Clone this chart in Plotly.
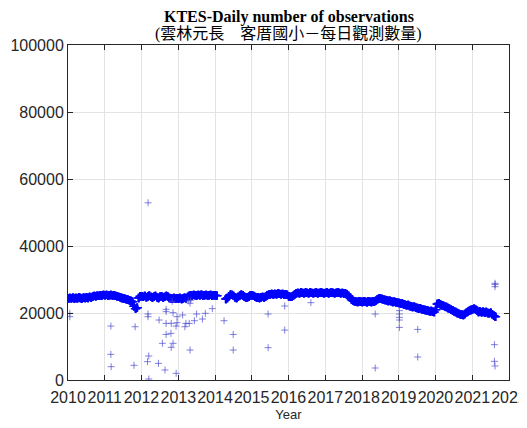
import pandas as pd
import plotly.graph_objects as go

# Semi-monthly levels of the main band (two values per month: 1st half, 2nd half)
band_2010 = [24300,24500,24400,24600,24300,24500,24400,24700,24500,24300,24600,24500,
             24700,24500,24800,24600,24900,25100,25000,25200,25100,25300,25200,25400]
band_2011 = [25300,25400,25200,25300,25400,25200,25300,25100,25000,24800,24700,24500,
             24400,24300,24100,24000,23800,23600,23400,22000,21300,21600,24500,25000]
band_2012 = [25000,24800,25100,24700,24900,25200,24800,24600,24900,25100,24700,24500,
             24900,25000,24600,24800,25100,24900,24500,24400,24300,24500,24300,24400]
band_2013 = [24300,24500,24200,24400,24600,24400,24800,25100,25300,25200,25400,25300,
             25200,25400,25300,25500,25200,25300,25400,25200,25300,25400,25200,25300]
band_2014 = [25300,25200,None,None,None,None,None,24200,24500,25000,25500,25400,
             25100,24700,24500,24800,25200,25500,25300,24900,24600,24700,24900,25300]
band_2015 = [25300,25100,24800,24600,24700,24500,24700,24800,24600,24900,25300,25500,
             25600,25700,25500,25700,25600,25800,25700,25600,25700,25500,25600,25400]
band_2016 = [25000,24800,24900,25200,25600,25900,26000,25900,26100,26000,25900,26100,
             26000,25900,26100,26000,25900,26000,26100,25900,26000,26100,26000,25900]
band_2017 = [26000,26100,25900,26000,26100,26000,25900,26000,26100,26000,25900,26000,
             25800,25900,25600,25200,24600,24000,23700,23500,23400,23300,23500,23400]
band_2018 = [23300,23500,23400,23200,23500,23400,23300,23500,23400,23700,24100,24400,
             24300,24200,24000,23900,23800,23600,23700,23500,23300,23400,23200,23100]
band_2019 = [23000,22800,22900,22600,22500,22300,22400,22100,22000,21800,21900,21600,
             21500,21300,21400,21100,21000,20900,20800,20700,20500,20600,20400,20300]
band_2020 = [21000,22700,22900,22600,22300,22200,21900,21800,21500,21300,21000,20800,
             20500,20300,20000,19800,19600,19500,19400,19700,20100,20400,20700,20900]
band_2021 = [21100,21300,21000,20700,20300,20500,20200,20400,20100,20300,20000,19900,
             20100,19600,19200,18900]

years = list(range(2010, 2022))
band_by_year = [band_2010, band_2011, band_2012, band_2013, band_2014, band_2015,
                band_2016, band_2017, band_2018, band_2019, band_2020, band_2021]

# Outlier observations (date, count)
outlier_dates = [
    "2010-01-19", "2010-01-19",
    "2011-03-03", "2011-03-03", "2011-03-06",
    "2011-10-30", "2011-10-19",
    "2012-03-14", "2012-03-01", "2012-03-14", "2012-03-06", "2012-03-06", "2012-03-07",
    "2012-06-24", "2012-06-18", "2012-07-27", "2012-08-22",
    "2012-09-02", "2012-09-02", "2012-09-02", "2012-09-02",
    "2012-10-20", "2012-10-23", "2012-10-23",
    "2012-11-10", "2012-11-10", "2012-11-01",
    "2012-12-10", "2012-12-11", "2012-12-20", "2012-12-20",
    "2013-02-13", "2013-03-08", "2013-03-18", "2013-04-20", "2013-04-28", "2013-04-28",
    "2013-04-10", "2013-05-05",
    "2013-06-10", "2013-07-02", "2013-08-29", "2013-09-27", "2013-12-05",
    "2014-04-01", "2014-07-01", "2014-07-01",
    "2015-06-13", "2015-06-13",
    "2015-11-25", "2015-11-25",
    "2016-08-11",
    "2018-05-12", "2018-05-12",
    "2019-01-08", "2019-01-08", "2019-01-08", "2019-01-08", "2019-01-08",
    "2019-07-09", "2019-07-09",
    "2021-08-15", "2021-08-15", "2021-08-16", "2021-08-15",
    "2021-08-09", "2021-08-09",
]
outlier_values = [
    19900, 18900,
    16100, 7650, 3970,
    15900, 4380,
    300, 5470, 7160, 19700, 18900, 52900,
    17900, 4970, 10950, 2990,
    21100, 20400, 16900, 13600,
    13930, 16900, 9750,
    20100, 10950, 23500,
    16100, 2000, 18900, 17100,
    19400, 15900, 16900, 16900, 22900, 8950,
    23600, 23800,
    17700, 19700, 18200, 19900, 21300,
    17700, 13600, 8950,
    19700, 9650,
    22090, 14900,
    23080,
    19700, 3580,
    20700, 19700, 18700, 17900, 15700,
    15100, 6870,
    28860, 27850, 28500, 4180,
    10550, 5570,
]

x_ticks = [str(y) for y in range(2010, 2023)]

band_x, band_y = [], []
for yr, vals in zip(years, band_by_year):
    for i, v in enumerate(vals):
        month = i // 2 + 1
        day = 4 if i % 2 == 0 else 19
        band_x.append(pd.Timestamp(yr, month, day))
        band_y.append(v)

# Plot each half-month level at several days so the band looks continuous
dense_x, dense_y = [], []
for d, v in zip(band_x, band_y):
    if v is None:
        continue
    for off in (-6, -3, 0, 3, 6):
        dense_x.append(d + pd.Timedelta(days=off))
        dense_y.append(v)

BLUE = "#0000ff"
fig = go.Figure()
fig.add_trace(go.Scatter(
    x=dense_x, y=dense_y, mode="markers",
    marker=dict(symbol="cross-thin", size=6, line=dict(color=BLUE, width=1.1)),
    hoverinfo="skip", showlegend=False))
fig.add_trace(go.Scatter(
    x=pd.to_datetime(outlier_dates), y=outlier_values, mode="markers",
    marker=dict(symbol="cross-thin", size=5, line=dict(color="#4a4ad0", width=0.7)),
    showlegend=False))

axis_common = dict(
    showline=True, linecolor="#262626", linewidth=1, mirror="allticks",
    ticks="inside", ticklen=5, tickcolor="#262626",
    showgrid=True, gridcolor="#e3e3e3", gridwidth=1,
    zeroline=False, automargin=False,
    tickfont=dict(family="Liberation Sans, Arial, sans-serif", size=16, color="#262626"),
)

# The page body has an 8px margin, so the figure is sized to fit the window
fig.update_layout(
    width=519, height=420,
    margin=dict(l=60, r=18, t=37, b=48),
    paper_bgcolor="white", plot_bgcolor="white",
    xaxis=dict(
        type="date",
        range=[pd.Timestamp(2010, 1, 1), pd.Timestamp(2022, 1, 1)],
        tickvals=[pd.Timestamp(int(t), 1, 1) for t in x_ticks],
        ticktext=x_ticks, tickangle=0, ticklabelstandoff=3,
        title=dict(text="Year", standoff=4,
                   font=dict(family="Liberation Sans, Arial, sans-serif", size=13, color="#262626")),
        **axis_common),
    yaxis=dict(
        range=[0, 100000], dtick=20000, tickformat="d",
        **axis_common),
    annotations=[
        dict(text="<b>KTES-Daily number of observations</b>", xref="paper", yref="paper",
             x=0.5, y=1.0, yshift=28, xanchor="center", yanchor="middle", showarrow=False,
             font=dict(family="Liberation Serif, Times New Roman, serif", size=16, color="black")),
        dict(text="(雲林元長　客厝國小－每日觀測數量)", xref="paper", yref="paper",
             x=0.5, y=1.0, yshift=11, xanchor="center", yanchor="middle", showarrow=False,
             font=dict(family="Liberation Serif, Noto Sans CJK TC, serif", size=16, color="black")),
    ],
)

fig.write_html("out.html")
